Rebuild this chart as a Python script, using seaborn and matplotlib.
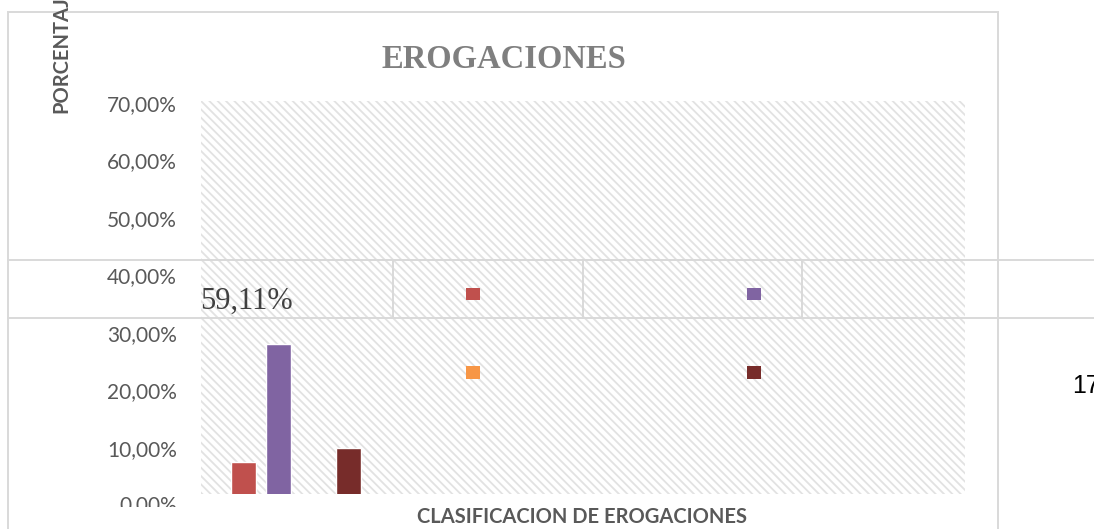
import numpy as np
import pandas as pd
import seaborn as sns
import matplotlib.pyplot as plt
from matplotlib.patches import Patch, Rectangle
from matplotlib.lines import Line2D
from matplotlib.transforms import Bbox, TransformedBbox

# datos
series = ["Serie 1", "Serie 2", "Serie 3", "Serie 4"]
valores = [7.5, 28.0, 0.0, 9.9]
colores = ["#C0504D", "#8064A2", "#F79646", "#772C2A"]
grupo = ["EROGACIONES"] * 4
yticks = [10, 20, 30, 40, 50, 60, 70]
etiqueta_izq = "59,11%"
etiqueta_der = "17"

sns.set_theme(style="white")
plt.rcParams["font.family"] = ["Lato", "DejaVu Sans"]
plt.rcParams["hatch.linewidth"] = 1.3
plt.rcParams["hatch.color"] = "#e2e2e2"

W, H = 1094, 529
def px(x, y):
    return (x / W, 1 - y / H)

df = pd.DataFrame({"grupo": grupo, "serie": series, "valor": valores})

fig = plt.figure(figsize=(W / 100, H / 100), dpi=100)
ax = fig.add_axes([201 / W, 1 - 494 / H, 764 / W, 393 / H])

ax.patch.set_facecolor("white")
ax.patch.set_edgecolor("#e2e2e2")
ax.patch.set_linewidth(0)
ax.patch.set_hatch("\\\\\\\\")

sns.barplot(data=df, x="grupo", y="valor", hue="serie", palette=colores,
            width=0.8, gap=0.286, legend=False, ax=ax, saturation=1)

ax.set_xlim(-0.543, 3.823)
ax.set_ylim(1.92, 70.38)
ax.set_xticks([])
ax.set_yticks(yticks)
ax.set_yticklabels([f"{v:.2f}".replace(".", ",") + "%" for v in yticks])
ax.tick_params(axis="y", length=0, pad=17.3, labelsize=15, labelcolor="#595959")
for s in ax.spines.values():
    s.set_visible(False)

ax.set_xlabel("CLASIFICACION DE EROGACIONES", fontsize=14.5, fontweight="bold", color="#595959")
ax.xaxis.label.set_va("center")
ax.xaxis.set_label_coords(0.4987, -0.0585)
ax.set_ylabel("")

# etiqueta 0,00% recortada
t0 = ax.text(-24 / 764, 0, "0,00%", transform=ax.get_yaxis_transform(),
             ha="right", va="center", fontsize=15, color="#595959", clip_on=True)
t0.set_clip_box(TransformedBbox(Bbox([[0, 22 / H], [1, 1]]), fig.transFigure))

# titulo y eje y
fig.text(*px(503.5, 68), "EROGACIONES", family=["Liberation Serif"], fontweight="bold",
         fontsize=23.5, color="#7f7f7f", ha="center", va="baseline")
fig.text(*px(61.5, 113), "PORCENTAJE", fontsize=14.5, fontweight="bold", color="#595959",
         rotation=90, rotation_mode="anchor", ha="left", va="center")

# marco del grafico
fig.add_artist(Rectangle(px(8, 540), 990 / W, 528 / H, transform=fig.transFigure,
                         fill=False, edgecolor="#d9d9d9", linewidth=1.4))

# caja de leyenda desplazada
lc = "#d9d9d9"
for yy in (260, 318):
    fig.add_artist(Line2D([8 / W, 1], [1 - yy / H] * 2, transform=fig.transFigure, color=lc, lw=1.4))
for xx in (393, 583, 802):
    fig.add_artist(Line2D([xx / W] * 2, [1 - 260 / H, 1 - 318 / H], transform=fig.transFigure, color=lc, lw=1.4))

orden = [0, 2, 1, 3]
handles = [Patch(facecolor=colores[i], edgecolor="none") for i in orden]
leg = fig.legend(handles, [""] * 4, ncol=2, loc="center", bbox_to_anchor=px(613.5, 333.5),
                 bbox_transform=fig.transFigure, frameon=False, fontsize=10.08,
                 handlelength=1, handleheight=1, handletextpad=0, columnspacing=19.04,
                 labelspacing=4.69, borderpad=0, borderaxespad=0)

# etiquetas de datos sueltas (la de la derecha queda cortada como en el original)
fig.text(*px(200, 309), etiqueta_izq, family=["Liberation Serif"], fontsize=22,
         color="#404040", ha="left", va="baseline")
fig.text(*px(1072, 393), etiqueta_der, family=["Liberation Sans"], fontsize=18,
         color="black", ha="left", va="baseline")

fig.savefig("out.png", dpi=100)
